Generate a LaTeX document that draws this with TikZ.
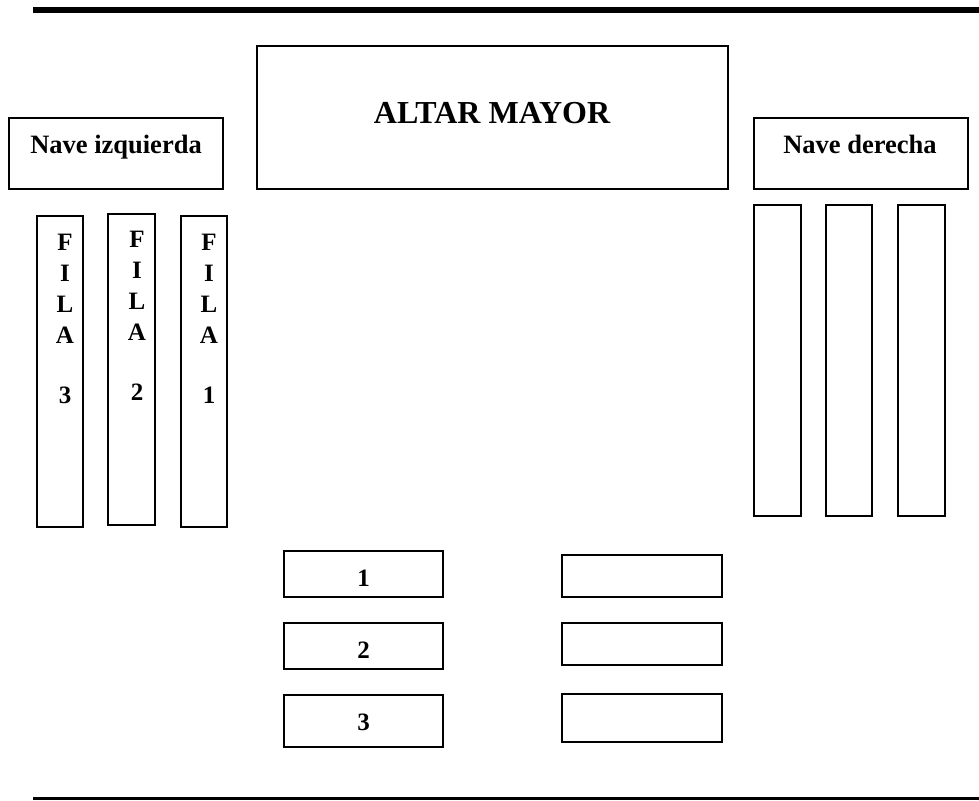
\documentclass[tikz,border=0pt]{standalone}
\usepackage{fontspec}
\setmainfont{Liberation Serif}
\begin{document}
\begin{tikzpicture}[x=1pt,y=-1pt,
  box/.style={draw=black,line width=1.6pt,inner sep=0pt,rectangle},
  lbl/.style={anchor=base,inner sep=0pt,font=\fontsize{26.5}{30}\selectfont\bfseries},
  biglbl/.style={anchor=base,inner sep=0pt,font=\fontsize{32}{36}\selectfont\bfseries},
  filalbl/.style={anchor=base,inner sep=0pt,font=\fontsize{25}{28}\selectfont\bfseries},
  wall/.style={line width=6pt,draw=black}]
\useasboundingbox (0,0) rectangle (979,800);
% walls
\coordinate (tl) at (33,10);
\coordinate (tr) at (979,10);
\coordinate (bl) at (33,798.5);
\coordinate (br) at (979,798.5);
\draw[wall] (tl) -- (tr);
\draw[line width=3pt] (bl) -- (br);
% top boxes
\node[box,minimum width=471pt,minimum height=143pt] (altar) at (492.5,117.5) {};
\node[biglbl] (altart) at (492,123) {ALTAR MAYOR};
\node[box,minimum width=214pt,minimum height=71pt] (navei) at (116,153.5) {};
\node[lbl] (naveit) at (116,153) {Nave izquierda};
\node[box,minimum width=214pt,minimum height=71pt] (naved) at (861,153.5) {};
\node[lbl] (navedt) at (860,153) {Nave derecha};
% left columns
\node[box,minimum width=46pt,minimum height=311pt] (fila3) at (60,371.5) {};
\node[box,minimum width=47pt,minimum height=311pt] (fila2) at (131.5,369.5) {};
\node[box,minimum width=46pt,minimum height=311pt] (fila1) at (204,371.5) {};
\foreach \c/\x/\y/\n in {3/65/250/3, 2/137/247/2, 1/209/250/1}{
  \node[filalbl] (f\c a) at (\x,\y) {F};
  \node[filalbl] (f\c b) at (\x,\y+31) {I};
  \node[filalbl] (f\c c) at (\x,\y+62) {L};
  \node[filalbl] (f\c d) at (\x,\y+93) {A};
  \node[filalbl] (f\c e) at (\x,\y+153) {\n};
}
% right columns
\node[box,minimum width=47pt,minimum height=311pt] (r1) at (777.5,360.5) {};
\node[box,minimum width=46pt,minimum height=311pt] (r2) at (849,360.5) {};
\node[box,minimum width=47pt,minimum height=311pt] (r3) at (921.5,360.5) {};
% bottom boxes
\node[box,minimum width=159pt,minimum height=46pt] (b1) at (363.5,574) {};
\node[filalbl] (b1t) at (363.5,586) {1};
\node[box,minimum width=159pt,minimum height=46pt] (b2) at (363.5,646) {};
\node[filalbl] (b2t) at (363.5,658) {2};
\node[box,minimum width=159pt,minimum height=52pt] (b3) at (363.5,721) {};
\node[filalbl] (b3t) at (363.5,730) {3};
\node[box,minimum width=160pt,minimum height=42pt] (c1) at (642,576) {};
\node[box,minimum width=160pt,minimum height=42pt] (c2) at (642,644) {};
\node[box,minimum width=160pt,minimum height=48pt] (c3) at (642,718) {};
\end{tikzpicture}
\end{document}
